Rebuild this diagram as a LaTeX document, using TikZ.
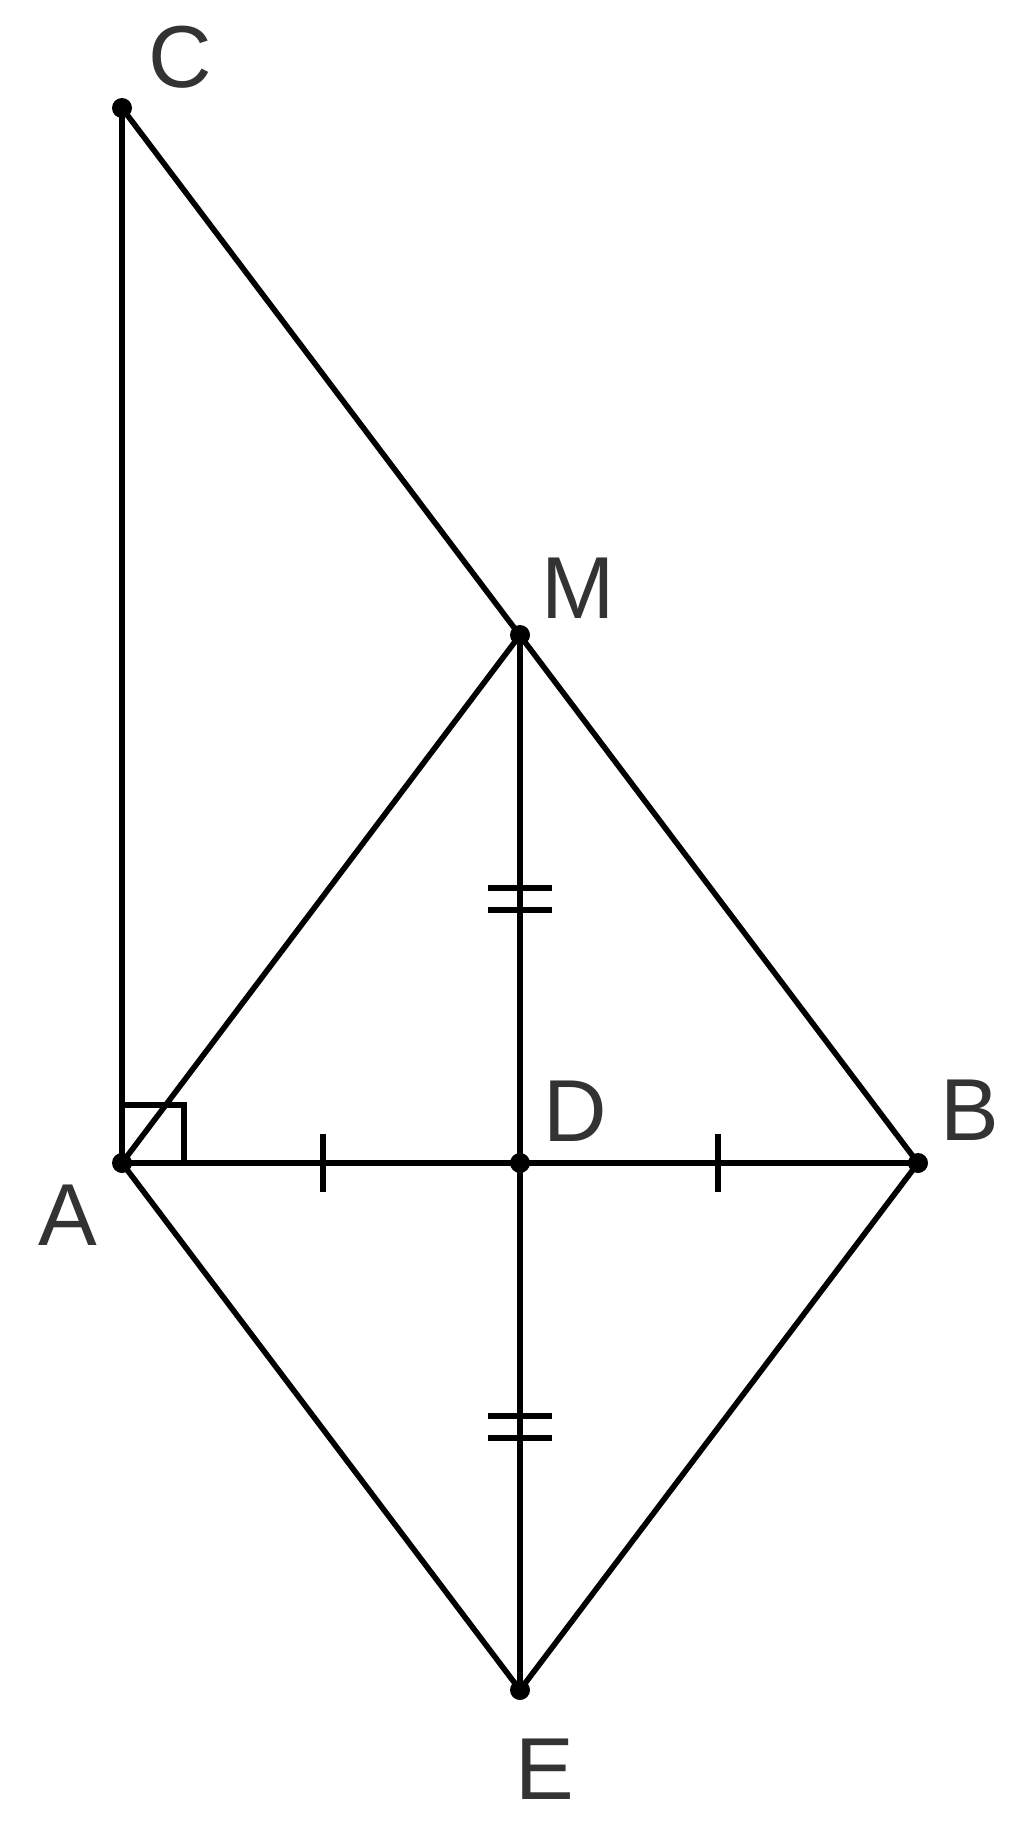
\documentclass[tikz,border=0pt]{standalone}
\usepackage{fontspec}
\setmainfont{Liberation Sans}
\begin{document}
\begin{tikzpicture}[x=0.5pt,y=-0.5pt,
  seg/.style={line width=2.8pt},
  tick/.style={line width=2.8pt},
  pt/.style={circle,fill=black,inner sep=0pt,minimum size=10pt},
  lbl/.style={inner sep=0pt,font=\fontsize{44}{48}\selectfont,text=black!80}]
\useasboundingbox (0,0) rectangle (1024,1825);
\coordinate (A) at (122,1163);
\coordinate (D) at (520,1163);
\coordinate (B) at (918,1163);
\coordinate (C) at (122,108);
\coordinate (M) at (520,635);
\coordinate (E) at (520,1690);
% right angle
\draw[line width=2.6pt] (122,1105) -- (184,1105) -- (184,1163);
% segments
\draw[seg] (A) -- (C);
\draw[seg] (C) -- (B);
\draw[seg] (A) -- (B);
\draw[seg] (A) -- (M);
\draw[seg] (M) -- (E);
\draw[seg] (A) -- (E);
\draw[seg] (E) -- (B);
% ticks
\draw[tick] (323,1134) -- (323,1192);
\draw[tick] (718,1134) -- (718,1192);
\draw[tick] (488,888) -- (552,888);
\draw[tick] (488,910) -- (552,910);
\draw[tick] (488,1416) -- (552,1416);
\draw[tick] (488,1438) -- (552,1438);
% points
\node[pt] (pA) at (A) {};
\node[pt] (pD) at (D) {};
\node[pt] (pB) at (B) {};
\node[pt] (pC) at (C) {};
\node[pt] (pM) at (M) {};
\node[pt] (pE) at (E) {};
% labels
\node[lbl] (lC) at (180,57) {C};
\node[lbl] (lM) at (578,588) {M};
\node[lbl] (lD) at (575,1111) {D};
\node[lbl] (lB) at (970,1110) {B};
\node[lbl] (lA) at (68,1215) {A};
\node[lbl] (lE) at (545,1769) {E};
\end{tikzpicture}
\end{document}
